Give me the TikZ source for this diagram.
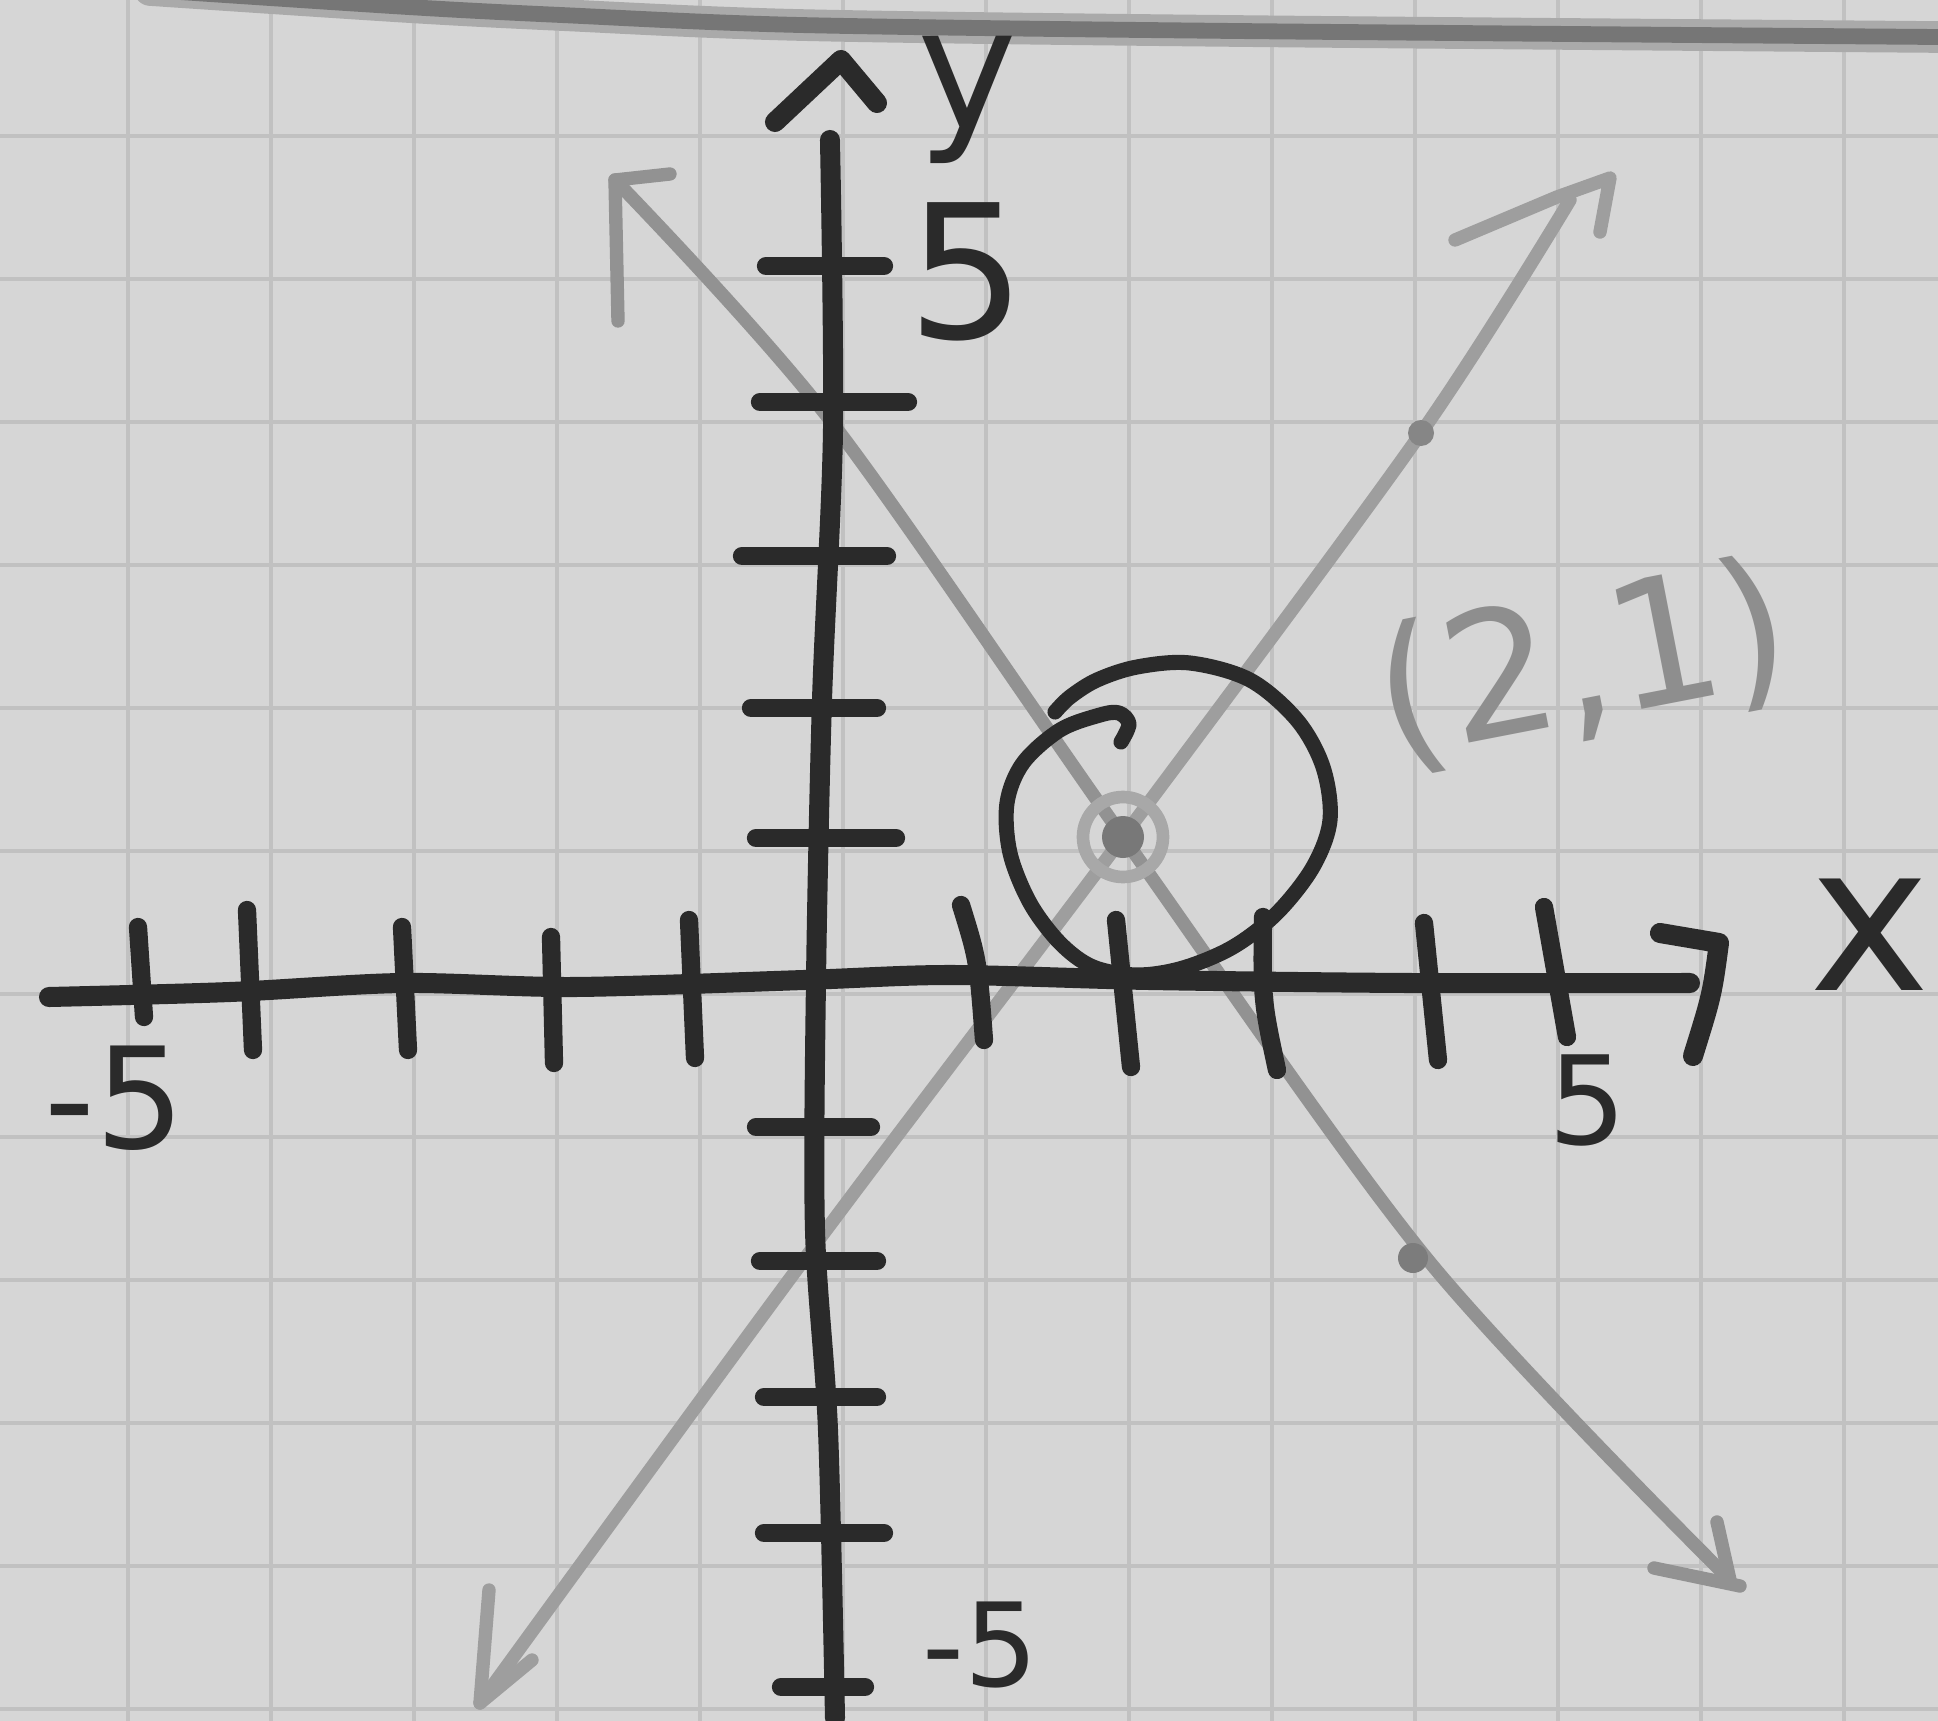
\documentclass[tikz,border=0pt]{standalone}
\usepackage{fontspec}
\setmainfont{DejaVu Sans}
\definecolor{paper}{RGB}{214,214,214}
\definecolor{gridc}{RGB}{193,193,193}
\definecolor{inkc}{RGB}{42,42,42}
\definecolor{pencA}{RGB}{146,146,146}
\definecolor{pencB}{RGB}{158,158,158}
\definecolor{pencT}{RGB}{142,142,142}
\definecolor{topc}{RGB}{118,118,118}
\definecolor{topl}{RGB}{170,170,170}
\definecolor{dotc}{RGB}{120,120,120}
\definecolor{ringc}{RGB}{168,168,168}
\tikzset{
  ink/.style={draw=inkc, line width=5.7pt, line cap=round, line join=round},
  tickmark/.style={draw=inkc, line width=5.2pt, line cap=round},
  loopline/.style={draw=inkc, line width=4.3pt, line cap=round, line join=round},
  pencilA/.style={draw=pencA, line width=3.8pt, line cap=round, line join=round},
  pencilB/.style={draw=pencB, line width=3.8pt, line cap=round, line join=round},
  gridline/.style={draw=gridc, line width=1.4pt},
  biglabel/.style={text=inkc, inner sep=0pt, font=\fontsize{53}{60}\selectfont},
  smalllabel/.style={text=inkc, inner sep=0pt, font=\fontsize{35}{40}\selectfont},
  pointlabel/.style={text=pencT, inner sep=0pt, font=\fontsize{50}{58}\selectfont},
}
\begin{document}
\begin{tikzpicture}[x=0.01cm,y=-0.01cm]
\fill[paper] (0,0) rectangle (1938,1721);
\useasboundingbox (0,0) rectangle (1938,1721);
% grid
\foreach \gx in {128,271,414,557,700,843,986,1129,1272,1415,1558,1701,1844}
  \draw[gridline] (\gx,0) -- (\gx,1721);
\foreach \gy in {136,279,422,565,708,851,994,1137,1280,1423,1566,1709}
  \draw[gridline] (0,\gy) -- (1938,\gy);
% top edge line of the page
\draw[draw=topl, line width=9pt, line cap=round]
  plot[smooth] coordinates {(150,-10) (408,7) (561,15) (800,25) (1236,31) (1938,37)};
\draw[draw=topc, line width=4.5pt, line cap=round]
  plot[smooth] coordinates {(150,-10) (408,7) (561,15) (800,25) (1236,31) (1938,37)};

% pencil line A (descending)
\draw[pencilA] plot[smooth, tension=0.5] coordinates {(615,180) (830,420) (1123,837) (1428,1260) (1728,1578)};
\coordinate (A1) at (615,180);
\coordinate (A2) at (1730,1580);
\draw[pencilA] (618,321) -- (A1) -- (670,174);
\draw[pencilA] (1717,1522) -- (A2);
\draw[pencilA] (1654,1568) -- (1740,1586);
\fill[pencA!85!black] (1413,1258) circle (15);

% pencil line B (ascending)
\draw[pencilB] plot[smooth, tension=0.5] coordinates {(480,1703) (803,1261) (1123,837) (1421,433) (1570,200)};
\coordinate (B1) at (1610,178);
\coordinate (B2) at (480,1703);
\draw[pencilB] (1455,240) -- (1557,197) -- (B1) -- (1600,232);
\draw[pencilB] (489,1590) -- (B2) -- (532,1660);
\fill[pencB!85!black] (1421,433) circle (13);

% intersection point (2,1)
\coordinate (P) at (1123,837);
\draw[draw=ringc, line width=3.6pt] (P) circle (40);
\fill[dotc] (P) circle (21);

% axes
\draw[ink] plot[smooth] coordinates {(830,140) (833,430) (822,700) (816,980) (815,1230) (828,1430) (835,1718)};
\draw[ink] plot[smooth] coordinates {(49,997) (230,992) (402,983) (574,987) (804,980) (950,975) (1150,980) (1409,983) (1690,983)};
% arrowheads of axes
\draw[ink] (775,122) -- (841,60) -- (877,103);
\draw[ink] (1660,933) -- (1719,943) .. controls (1712,995) .. (1693,1056);

% x ticks
\draw[tickmark] (138,927) -- (144,1017);
\draw[tickmark] (247,910) -- (253,1050);
\draw[tickmark] (402,927) -- (408,1050);
\draw[tickmark] (551,937) -- (554,1063);
\draw[tickmark] (689,920) -- (695,1058);
\draw[tickmark] (961,905) .. controls (978,960) .. (984,1040);
\draw[tickmark] (1116,920) -- (1131,1067);
\draw[tickmark] (1263,917) .. controls (1262,1000) .. (1277,1070);
\draw[tickmark] (1424,923) -- (1438,1060);
\draw[tickmark] (1544,907) -- (1567,1037);
% y ticks
\foreach \ty/\ta/\tb in {266/766/884, 402/760/908, 556/742/887, 708/751/877, 838/756/896, 1127/756/871, 1261/760/877, 1397/764/877, 1533/764/884, 1687/781/865}
  \draw[tickmark] (\ta,\ty) -- (\tb,\ty);

% circle around the point
\draw[loopline] plot[smooth, tension=0.55] coordinates {(1121,742) (1129,724) (1119,713) (1100,715) (1060,730) (1023,763) (1007,803) (1010,853) (1030,903) (1060,943) (1093,967) (1137,975) (1183,968) (1233,947) (1277,913) (1313,867) (1330,820) (1323,767) (1297,720) (1250,680) (1190,663) (1137,667) (1097,680) (1070,697) (1055,712)};

% labels
\node[biglabel, font=\fontsize{48}{56}\selectfont] (ylab) at (967,100) {y};
\node[biglabel, font=\fontsize{58}{66}\selectfont] (xlab) at (1870,935) {x};
\node[biglabel] (ytop) at (967,272) {5};
\node[smalllabel, font=\fontsize{40}{46}\selectfont] (xleft) at (115,1098) {-5};
\node[smalllabel] (xright) at (1588,1100) {5};
\node[smalllabel, font=\fontsize{33}{38}\selectfont] (ybottom) at (980,1645) {-5};
\node[pointlabel, rotate=11] (plab) at (1583,665) {(2,1)};
\end{tikzpicture}
\end{document}
